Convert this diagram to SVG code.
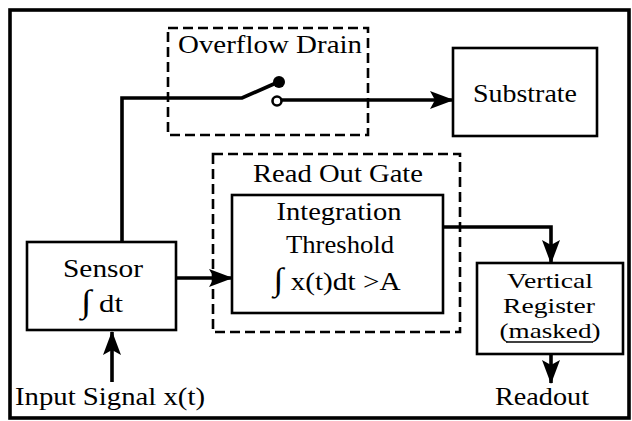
<svg xmlns="http://www.w3.org/2000/svg" width="632" height="421" viewBox="0 0 632 421">
<style>
text{font-family:'Liberation Serif',serif;font-size:26px;fill:#000;text-anchor:middle}
.box{fill:none;stroke:#000;stroke-width:2.6}
.dash{fill:none;stroke:#000;stroke-width:2.6;stroke-dasharray:10,5}
.wire{fill:none;stroke:#000;stroke-width:3.6}
.vr{font-size:22px}
.int{font-size:32px}
</style>
<defs>
<marker id="ah" markerUnits="userSpaceOnUse" viewBox="0 0 24 18" markerWidth="24" markerHeight="18" refX="23" refY="9" orient="auto">
<path d="M0,0 L24,9 L0,18 L5,9 Z" fill="#000"/>
</marker>
</defs>
<rect x="10" y="10" width="619" height="408" fill="#fff" stroke="#000" stroke-width="3.6"/>
<g id="overflow-drain">
<rect class="dash" x="168" y="28" width="200" height="107"/>
<text x="270" y="53" textLength="184" lengthAdjust="spacingAndGlyphs">Overflow Drain</text>
</g>
<g id="substrate">
<rect class="box" x="453" y="48" width="144" height="88"/>
<text x="525" y="102" textLength="104" lengthAdjust="spacingAndGlyphs">Substrate</text>
</g>
<g id="read-out-gate">
<rect class="dash" x="213" y="154" width="247" height="178"/>
<text x="338" y="182" textLength="170" lengthAdjust="spacingAndGlyphs">Read Out Gate</text>
</g>
<g id="integration-threshold">
<rect class="box" x="232" y="195" width="211" height="118"/>
<text x="339" y="220" textLength="125" lengthAdjust="spacingAndGlyphs">Integration</text>
<text x="340" y="253" textLength="108" lengthAdjust="spacingAndGlyphs">Threshold</text>
<text x="337" y="290" textLength="127" lengthAdjust="spacingAndGlyphs"><tspan class="int">∫</tspan> x(t)dt &gt;A</text>
</g>
<g id="sensor">
<rect class="box" x="27" y="242" width="149" height="88"/>
<text x="103" y="277" textLength="80" lengthAdjust="spacingAndGlyphs">Sensor</text>
<text x="102" y="312" textLength="42" lengthAdjust="spacingAndGlyphs"><tspan class="int">∫</tspan> dt</text>
</g>
<g id="vertical-register">
<rect class="box" x="477" y="263" width="146" height="91"/>
<text class="vr" x="550" y="288" textLength="86" lengthAdjust="spacingAndGlyphs">Vertical</text>
<text class="vr" x="549" y="313" textLength="92" lengthAdjust="spacingAndGlyphs">Register</text>
<text class="vr" x="550" y="338" textLength="101" lengthAdjust="spacingAndGlyphs">(masked)</text>
<line x1="506" y1="342" x2="593" y2="342" stroke="#000" stroke-width="1.6"/>
</g>
<g id="input-signal">
<text x="110" y="405" textLength="190" lengthAdjust="spacingAndGlyphs">Input Signal x(t)</text>
</g>
<g id="readout">
<text x="542" y="405" textLength="94" lengthAdjust="spacingAndGlyphs">Readout</text>
</g>
<g id="connectors">
<path class="wire" d="M122,242 V98 H242 L276,83"/>
<circle cx="279" cy="82" r="6" fill="#000"/>
<circle cx="277" cy="101" r="4.5" fill="#fff" stroke="#000" stroke-width="2.6"/>
<path class="wire" d="M282,100 H453" marker-end="url(#ah)"/>
<path class="wire" d="M176,278 H232" marker-end="url(#ah)"/>
<path class="wire" d="M443,227 H551 V263" marker-end="url(#ah)"/>
<path class="wire" d="M112,382 V332" marker-end="url(#ah)"/>
<path class="wire" d="M551,354 V383" marker-end="url(#ah)"/>
</g>
</svg>
